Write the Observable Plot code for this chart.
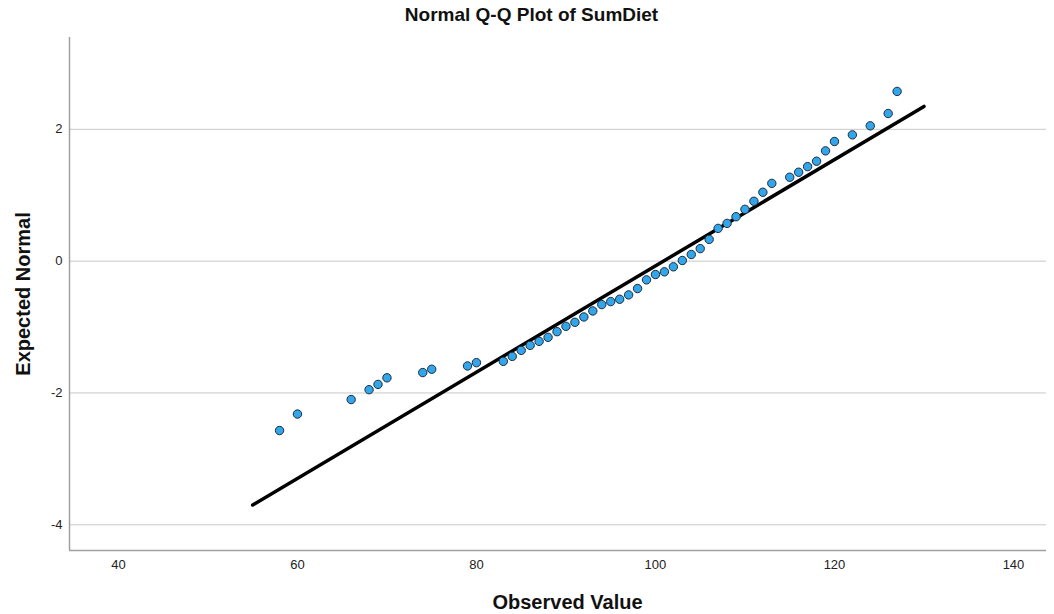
<!DOCTYPE html>
<html>
<head>
<meta charset="utf-8">
<script src="https://cdn.jsdelivr.net/npm/d3@7"></script>
<script src="https://cdn.jsdelivr.net/npm/@observablehq/plot@0.6"></script>
<style>
  html, body { margin: 0; padding: 0; background: #fff; }
  #chart svg { display: block; }
</style>
</head>
<body>
<div id="chart"></div>
<script>
// ---- data ----
const observed = [58, 60, 66, 68, 69, 70, 74, 75, 79, 80, 83, 84, 85, 86, 87, 88, 89, 90, 91, 92,
  93, 94, 95, 96, 97, 98, 99, 100, 101, 102, 103, 104, 105, 106, 107, 108, 109, 110, 111, 112,
  113, 115, 116, 117, 118, 119, 120, 122, 124, 126, 127];
const expected = [-2.57, -2.32, -2.10, -1.95, -1.87, -1.77, -1.69, -1.64, -1.59, -1.54, -1.52, -1.445,
  -1.354, -1.278, -1.217, -1.156, -1.07, -0.989, -0.928, -0.847, -0.756, -0.659, -0.614, -0.578,
  -0.512, -0.416, -0.284, -0.203, -0.162, -0.086, 0.01, 0.101, 0.19, 0.33, 0.497, 0.573, 0.674,
  0.786, 0.908, 1.045, 1.18, 1.273, 1.349, 1.434, 1.516, 1.673, 1.815, 1.916, 2.053, 2.24, 2.575];
// reference line (normal fit) endpoints
const lineX = [55, 130];
const lineY = [-3.70, 2.347];
const xTicks = [40, 60, 80, 100, 120, 140];
const yTicks = [-4, -2, 0, 2];
const xDomain = [34.53, 143.69];
const yDomain = [-4.39, 3.393];
const titleText = ["Normal Q-Q Plot of SumDiet"];
const xTitle = ["Observed Value"];
const yTitle = ["Expected Normal"];

const points = observed.map((x, i) => ({x, y: expected[i]}));
const fitLine = lineX.map((x, i) => ({x, y: lineY[i]}));

const chart = Plot.plot({
  width: 1054,
  height: 614,
  marginLeft: 69,
  marginRight: 8,
  marginTop: 37,
  marginBottom: 64,
  style: {fontFamily: "'Liberation Sans', Arial, sans-serif", fontSize: "13px", color: "#222", background: "#fff"},
  x: {domain: xDomain},
  y: {domain: yDomain},
  marks: [
    Plot.gridY(yTicks, {stroke: "#c8c8c8", strokeOpacity: 1, strokeWidth: 1}),
    Plot.ruleX([xDomain[0]], {stroke: "#a0a0a0", strokeWidth: 1.5}),
    Plot.ruleY([yDomain[0]], {stroke: "#a0a0a0", strokeWidth: 1.5}),
    Plot.axisX(xTicks, {tickSize: 0, tickPadding: 9, label: null, fill: "#222"}),
    Plot.axisY(yTicks, {tickSize: 0, tickPadding: 7, label: null, fill: "#222", tickFormat: d => d < 0 ? "-" + Math.abs(d) : String(d)}),
    Plot.line(fitLine, {x: "x", y: "y", stroke: "#000", strokeWidth: 3.5}),
    Plot.dot(points, {x: "x", y: "y", r: 4.2, fill: "#33a5eb", stroke: "#1b2d3c", strokeWidth: 1}),
    Plot.text(titleText, {frameAnchor: "top", textAnchor: "middle", lineAnchor: "middle", dx: -26.5, dy: -23, fontSize: 19, fontWeight: "bold", fill: "#111"}),
    Plot.text(xTitle, {frameAnchor: "bottom", textAnchor: "middle", lineAnchor: "middle", dx: 9.5, dy: 52, fontSize: 20, fontWeight: "bold", fill: "#111"}),
    Plot.text(yTitle, {frameAnchor: "left", textAnchor: "middle", lineAnchor: "middle", dx: -46, rotate: -90, fontSize: 20, fontWeight: "bold", fill: "#111"})
  ]
});
document.getElementById("chart").appendChild(chart);
</script>
</body>
</html>
